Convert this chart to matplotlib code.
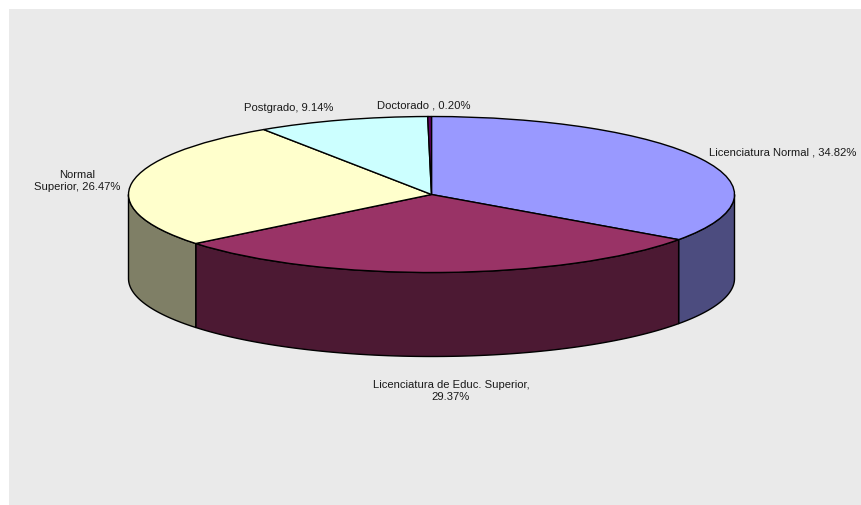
import numpy as np
import matplotlib
matplotlib.use("Agg")
import matplotlib.pyplot as plt
from matplotlib.patches import Rectangle

plt.rcParams['font.family'] = ['Liberation Sans', 'DejaVu Sans']

# datos
categorias = ["Licenciatura Normal", "Licenciatura de Educ. Superior", "Normal Superior", "Postgrado", "Doctorado"]
valores = [34.82, 29.37, 26.47, 9.14, 0.20]
etiquetas = ["Licenciatura Normal , 34.82%", "Licenciatura de Educ. Superior,\n29.37%",
             "Normal\nSuperior, 26.47%", "Postgrado, 9.14%", "Doctorado , 0.20%"]
colores = ["#9999FF", "#993366", "#FFFFCC", "#CCFFFF", "#660066"]
colores_lado = ["#4C4C7F", "#4C1933", "#7F7F66", "#667F7F", "#330033"]

W, H = 862, 506
CX, CY, RX, RY = 431.5, 195.5, 303, 78   # elipse en pixeles
PROF = 84 / RY                           # altura del cilindro en radios

fig = plt.figure(figsize=(W / 100, H / 100), dpi=100, facecolor="white")
# fondo gris, pasa del borde derecho e inferior de la figura
fig.patches.append(Rectangle((9 / W, -0.02), 1.02, 1.02 - 10 / H, transform=fig.transFigure,
                             facecolor="#EAEAEA", edgecolor="none", zorder=-1))

ax = fig.add_axes([0, 0, 1, 1])
ax.patch.set_visible(False)

# paredes del cilindro: solo se ve la mitad frontal (angulos 0 a -180)
bordes = 90 - np.cumsum([0] + valores) * 3.6
for i in range(len(valores)):
    ini, fin = min(bordes[i], 0), max(bordes[i + 1], -180)
    if ini <= fin:
        continue
    t = np.radians(np.linspace(ini, fin, 80))
    xs = np.cos(t)
    ys = np.sin(t)
    px = np.concatenate([xs, xs[::-1]])
    py = np.concatenate([ys, ys[::-1] - PROF])
    ax.fill(px, py, facecolor=colores_lado[i], edgecolor="black", linewidth=1.0, joinstyle="round")

ax.pie(valores, colors=colores, startangle=90, counterclock=False, radius=1, frame=True,
       wedgeprops={"edgecolor": "black", "linewidth": 1.0})

ax.set_aspect("auto")
ax.set_xlim(-CX / RX, (W - CX) / RX)
ax.set_ylim((CY - H) / RY, CY / RY)
ax.axis("off")

# etiquetas en pixeles de la imagen
pos_etiquetas = [(783, 152.5), (451, 391), (77, 181), (289, 108), (423.5, 105)]
for txt, (x, y) in zip(etiquetas, pos_etiquetas):
    fig.text(x / W, 1 - y / H, txt, fontsize=8.1, color="#1a1a1a", ha="center", va="center",
             linespacing=1.3)

fig.savefig("out.png", dpi=100)
